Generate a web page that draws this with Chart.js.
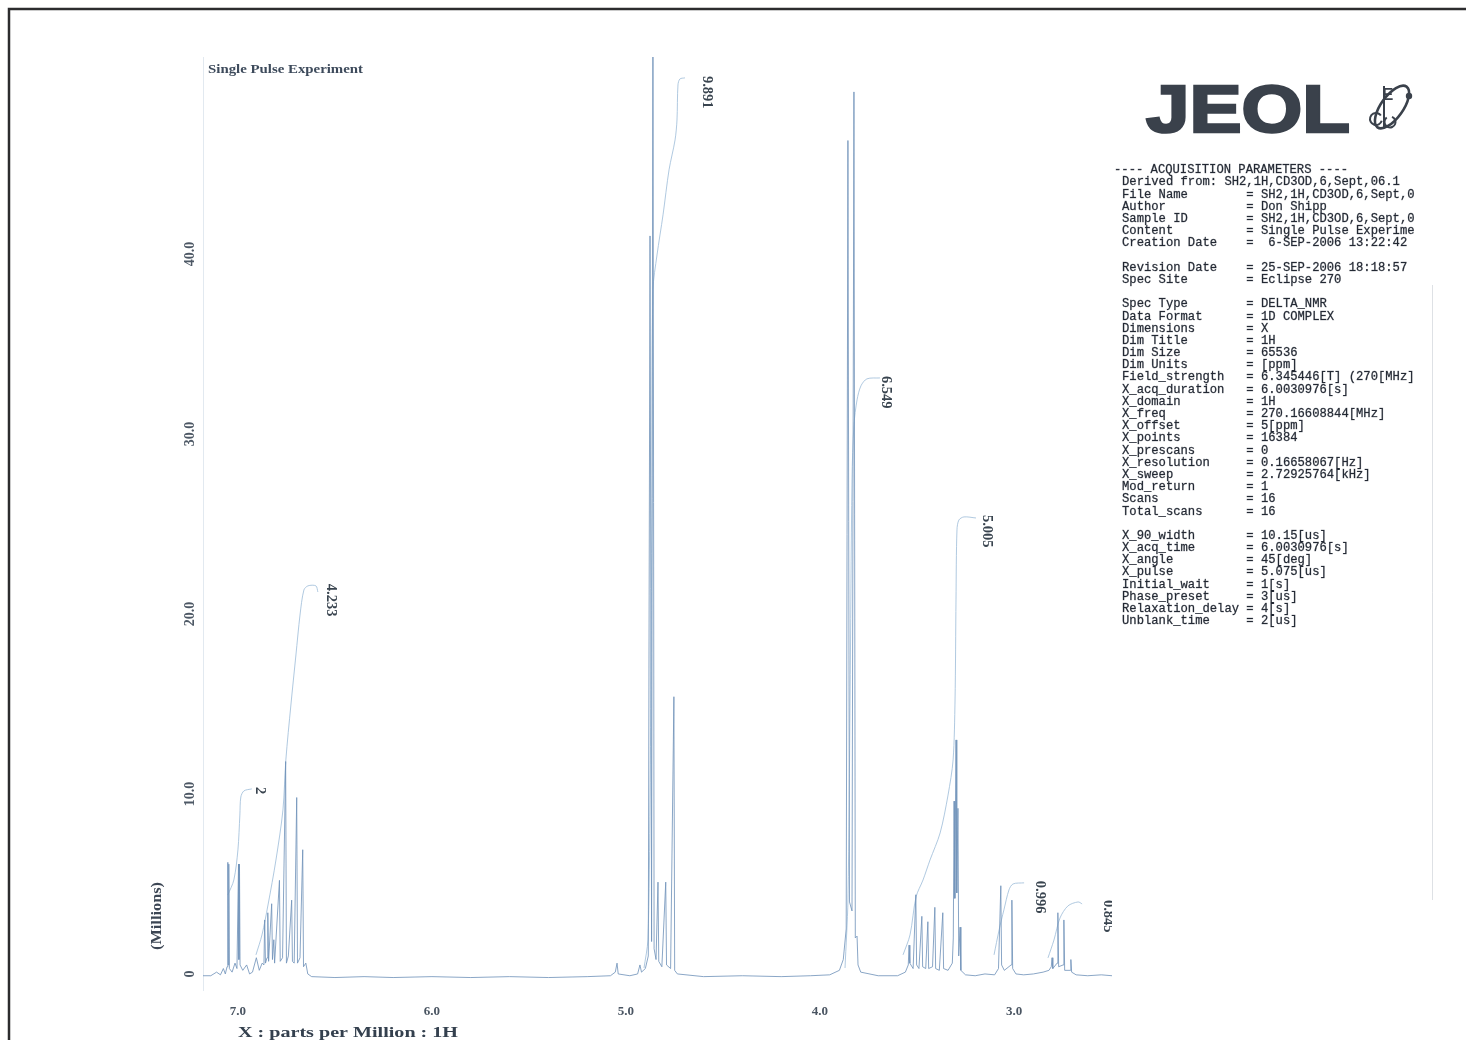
<!DOCTYPE html>
<html>
<head>
<meta charset="utf-8">
<title>Single Pulse Experiment – 1H NMR</title>
<script src="https://cdn.jsdelivr.net/npm/chart.js@4.4.1/dist/chart.umd.min.js"></script>
<style>
  html, body { margin: 0; padding: 0; background: #ffffff; }
  #wrap { position: relative; width: 1466px; height: 1040px; }
  canvas { display: block; }
</style>
</head>
<body>
<div id="wrap"><canvas id="nmr" width="1466" height="1040"></canvas></div>
<script>
// ---- spectrum: chemical shift (ppm) and intensity (millions) ----
const shiftPpm = [
  7.180, 7.140, 7.110, 7.090, 7.075, 7.065, 7.056, 7.052, 7.050, 7.047, 7.044, 7.030, 7.015, 7.005,
  6.997, 6.995, 6.992, 6.989, 6.975, 6.955, 6.940, 6.925, 6.905, 6.890, 6.875, 6.866, 6.862, 6.858,
  6.850, 6.846, 6.842, 6.826, 6.822, 6.815, 6.811, 6.786, 6.782, 6.770, 6.754, 6.750, 6.740, 6.723,
  6.719, 6.710, 6.697, 6.693, 6.680, 6.666, 6.662, 6.650, 6.640, 6.620, 6.500, 6.350, 6.200, 6.000,
  5.800, 5.600, 5.400, 5.200, 5.080, 5.055, 5.046, 5.040, 4.980, 4.940, 4.928, 4.920, 4.900, 4.885,
  4.876, 4.868, 4.861, 4.855, 4.845, 4.835, 4.831, 4.815, 4.795, 4.791, 4.770, 4.753, 4.749, 4.735,
  4.600, 4.400, 4.200, 4.050, 3.950, 3.900, 3.880, 3.865, 3.856, 3.848, 3.835, 3.825, 3.818, 3.809,
  3.804, 3.790, 3.700, 3.600, 3.560, 3.545, 3.541, 3.537, 3.520, 3.506, 3.502, 3.490, 3.475, 3.471,
  3.455, 3.444, 3.440, 3.420, 3.408, 3.404, 3.385, 3.367, 3.363, 3.340, 3.318, 3.313, 3.309, 3.305,
  3.299, 3.295, 3.289, 3.285, 3.278, 3.274, 3.250, 3.200, 3.150, 3.100, 3.080, 3.068, 3.064, 3.050,
  3.015, 3.011, 3.007, 2.990, 2.950, 2.900, 2.850, 2.820, 2.808, 2.804, 2.800, 2.778, 2.774, 2.770,
  2.747, 2.743, 2.739, 2.710, 2.707, 2.703, 2.680, 2.620, 2.550, 2.495
];
const intensityM = [
  -0.10, -0.10, 0.10, -0.05, 0.30, 0.00, 0.40, 6.20, 0.50, 6.10, 0.30, 0.10, 0.60, 0.30,
  6.10, 0.80, 6.10, 0.50, 0.20, 0.50, 0.00, 0.10, 0.90, 0.20, 0.60, 0.50, 3.00, 0.60,
  0.90, 3.40, 0.70, 3.90, 0.80, 1.90, 0.60, 5.20, 0.70, 0.90, 11.80, 0.60, 1.00, 4.10,
  0.70, 0.60, 9.80, 0.60, 0.90, 6.90, 0.40, 0.60, 0.00, -0.15, -0.20, -0.15, -0.20, -0.15,
  -0.20, -0.15, -0.20, -0.15, -0.10, 0.10, 0.60, 0.00, -0.10, 0.00, 0.50, 0.10, 0.30, 1.00,
  41.0, 1.80, 57.0, 1.40, 0.80, 5.10, 0.70, 0.40, 5.10, 0.50, 0.30, 15.40, 0.20, 0.00,
  -0.15, -0.10, -0.15, -0.10, -0.05, 0.20, 0.80, 2.50, 46.30, 4.00, 3.50, 49.00, 2.00, 2.10,
  0.50, 0.10, -0.10, -0.10, 0.10, 0.50, 1.60, 0.60, 0.30, 4.40, 0.50, 0.30, 3.20, 0.40,
  0.30, 2.90, 0.30, 0.40, 3.70, 0.30, 0.20, 3.40, 0.30, 0.20, 0.60, 2.00, 9.60, 4.20,
  13.00, 4.50, 9.20, 1.00, 2.60, 0.20, -0.05, -0.10, 0.00, -0.05, 0.30, 4.90, 0.50, 0.20,
  0.50, 4.10, 0.30, 0.00, -0.05, 0.00, 0.10, 0.20, 0.40, 0.90, 0.30, 0.60, 3.40, 0.40,
  0.50, 3.00, 0.20, 0.20, 0.80, 0.10, -0.05, -0.10, -0.05, -0.10
];

// ---- integral traces (ppm, running integral in millions) ----
const integ1Ppm = [7.052, 7.021, 7.000, 6.990, 6.985, 6.969, 6.928];
const integ1Val = [4.39, 5.22, 6.89, 8.83, 9.83, 10.17, 10.28];
const integ2Ppm = [6.907, 6.876, 6.845, 6.804, 6.768, 6.753, 6.727, 6.701, 6.680, 6.660, 6.639, 6.598, 6.588];
const integ2Val = [1.06, 2.17, 3.83, 6.33, 9.11, 11.89, 14.94, 17.72, 19.94, 21.33, 21.56, 21.56, 21.22];
const integ3Ppm = [4.907, 4.887, 4.876, 4.866, 4.861, 4.840, 4.809, 4.778, 4.747, 4.737, 4.732, 4.722, 4.696];
const integ3Val = [0.33, 1.89, 9.67, 26.33, 38.00, 39.94, 42.17, 44.67, 46.33, 47.44, 49.39, 49.72, 49.78];
const integ4Ppm = [3.871, 3.856, 3.845, 3.835, 3.825, 3.809, 3.789, 3.758, 3.691];
const integ4Val = [0.33, 4.11, 15.22, 27.44, 30.50, 31.89, 32.67, 33.06, 33.11];
const integ5Ppm = [3.572, 3.536, 3.505, 3.469, 3.433, 3.381, 3.340, 3.314, 3.304, 3.299, 3.294, 3.284, 3.258, 3.196];
const integ5Val = [1.06, 2.17, 4.28, 5.22, 6.33, 7.83, 9.94, 11.89, 15.22, 20.78, 24.67, 25.22, 25.39, 25.33];
const integ6Ppm = [3.103, 3.077, 3.052, 3.026, 3.005, 2.948];
const integ6Val = [1.06, 2.44, 3.56, 4.67, 5.00, 5.06];
const integ7Ppm = [2.825, 2.794, 2.763, 2.722, 2.670, 2.649];
const integ7Val = [0.89, 1.89, 3.11, 3.78, 4.00, 3.89];

// integral values printed beside each trace, and the shift where each is printed
const integralText = ['2', '4.233', '9.891', '6.549', '5.005', '0.996', '0.845'];
const integralTextPpm = [6.887, 6.521, 4.582, 3.660, 3.139, 2.866, 2.515];

// axis ticks
const xTickStep = 1.0;
const yTickValues = [0, 10, 20, 30, 40];

// acquisition parameter listing
const paramHeader = '---- ACQUISITION PARAMETERS ----';
const paramDerived = 'Derived from: SH2,1H,CD3OD,6,Sept,06.1';
const paramNames = [
  'File Name', 'Author', 'Sample ID', 'Content', 'Creation Date', '',
  'Revision Date', 'Spec Site', '',
  'Spec Type', 'Data Format', 'Dimensions', 'Dim Title', 'Dim Size', 'Dim Units',
  'Field_strength', 'X_acq_duration', 'X_domain', 'X_freq', 'X_offset', 'X_points',
  'X_prescans', 'X_resolution', 'X_sweep', 'Mod_return', 'Scans', 'Total_scans', '',
  'X_90_width', 'X_acq_time', 'X_angle', 'X_pulse', 'Initial_wait', 'Phase_preset',
  'Relaxation_delay', 'Unblank_time'
];
const paramValues = [
  'SH2,1H,CD3OD,6,Sept,0', 'Don Shipp', 'SH2,1H,CD3OD,6,Sept,0', 'Single Pulse Experime',
  ' 6-SEP-2006 13:22:42', '',
  '25-SEP-2006 18:18:57', 'Eclipse 270', '',
  'DELTA_NMR', '1D COMPLEX', 'X', '1H', '65536', '[ppm]',
  '6.345446[T] (270[MHz]', '6.0030976[s]', '1H', '270.16608844[MHz]', '5[ppm]', '16384',
  '0', '0.16658067[Hz]', '2.72925764[kHz]', '1', '16', '16', '',
  '10.15[us]', '6.0030976[s]', '45[deg]', '5.075[us]', '1[s]', '3[us]',
  '4[s]', '2[us]'
];

const toXY = (xs, ys) => xs.map((x, i) => ({ x: x, y: ys[i] }));

const SERIF = '"Liberation Serif", "DejaVu Serif", serif';
const MONO = '"Liberation Mono", "DejaVu Sans Mono", monospace';
const SPEC_COLOR = 'rgba(112, 146, 186, 0.82)';
const INTEG_COLOR = 'rgba(156, 188, 216, 0.8)';
const LABEL_COLOR = '#39444f';

// draws text squeezed or stretched to a given length
function fitText(ctx, text, x, y, width, stroke) {
  const w = ctx.measureText(text).width;
  ctx.save();
  ctx.translate(x, y);
  ctx.scale(width / w, 1);
  if (stroke) ctx.strokeText(text, 0, 0);
  ctx.fillText(text, 0, 0);
  ctx.restore();
}

const pagePlugin = {
  id: 'page',
  beforeDraw(chart) {
    const ctx = chart.ctx;
    ctx.save();
    ctx.fillStyle = '#ffffff';
    ctx.fillRect(0, 0, chart.width, chart.height);
    // page frame
    ctx.strokeStyle = '#2c2c2e';
    ctx.lineWidth = 2.5;
    ctx.beginPath();
    ctx.moveTo(9, 1040);
    ctx.lineTo(9, 9);
    ctx.lineTo(1466, 9);
    ctx.stroke();
    ctx.strokeStyle = 'rgba(200, 205, 212, 0.6)';
    ctx.lineWidth = 1;
    ctx.beginPath();
    ctx.moveTo(1432.5, 285);
    ctx.lineTo(1432.5, 900);
    ctx.stroke();
    ctx.restore();
  },
  afterDatasetsDraw(chart) {
    const ctx = chart.ctx;
    const xs = chart.scales.x;
    const ys = chart.scales.y;
    const area = chart.chartArea;

    ctx.save();
    // y tick labels, rotated
    ctx.fillStyle = '#4d5865';
    ctx.font = 'bold 14px ' + SERIF;
    ctx.textAlign = 'center';
    ctx.textBaseline = 'middle';
    yTickValues.forEach(v => {
      const py = ys.getPixelForValue(v);
      ctx.save();
      ctx.translate(190, py);
      ctx.rotate(-Math.PI / 2);
      ctx.fillText(v === 0 ? '0' : v.toFixed(1), 0, 0);
      ctx.restore();
    });

    // y axis title
    ctx.font = 'bold 14px ' + SERIF;
    ctx.fillStyle = '#3c4654';
    ctx.save();
    ctx.translate(157, 916);
    ctx.rotate(-Math.PI / 2);
    ctx.textAlign = 'left';
    fitText(ctx, '(Millions)', -34, 0, 68);
    ctx.restore();

    // plot title
    ctx.textAlign = 'left';
    ctx.textBaseline = 'middle';
    ctx.fillStyle = '#3d4a5b';
    ctx.font = 'bold 13px ' + SERIF;
    fitText(ctx, 'Single Pulse Experiment', 208, 70, 155);

    // x axis title
    ctx.font = 'bold 14px ' + SERIF;
    ctx.fillStyle = '#34404e';
    fitText(ctx, 'X : parts per Million : 1H', 238, 1033, 220);

    // integral values, rotated, clipped at the plot's right edge
    const traces = [integ1Val, integ2Val, integ3Val, integ4Val, integ5Val, integ6Val, integ7Val];
    ctx.save();
    ctx.beginPath();
    ctx.rect(0, 0, area.right, chart.height);
    ctx.clip();
    ctx.fillStyle = LABEL_COLOR;
    ctx.font = 'bold 14.5px ' + SERIF;
    ctx.textAlign = 'left';
    ctx.textBaseline = 'middle';
    integralText.forEach((t, i) => {
      const px = xs.getPixelForValue(integralTextPpm[i]);
      const py = ys.getPixelForValue(Math.max(...traces[i])) - 2;
      ctx.save();
      ctx.translate(px, py);
      ctx.rotate(Math.PI / 2);
      ctx.fillText(t, 0, 0);
      ctx.restore();
    });
    ctx.restore();

    // acquisition parameter listing
    ctx.fillStyle = '#222833';
    ctx.strokeStyle = 'rgba(34, 40, 51, 0.55)';
    ctx.lineWidth = 0.45;
    ctx.font = '12.2px ' + MONO;
    ctx.textAlign = 'left';
    ctx.textBaseline = 'middle';
    const lineH = 12.19;
    const top = 170;
    const drawLine = (s, x, y) => { ctx.strokeText(s, x, y); ctx.fillText(s, x, y); };
    drawLine(paramHeader, 1114, top);
    drawLine(paramDerived, 1122, top + lineH);
    paramNames.forEach((n, i) => {
      if (!n) return;
      drawLine(n.padEnd(17, ' ') + '= ' + paramValues[i], 1122, top + lineH * (i + 2));
    });

    // JEOL logotype
    ctx.fillStyle = '#3a414b';
    ctx.strokeStyle = '#3a414b';
    ctx.lineWidth = 2.5;
    ctx.lineJoin = 'miter';
    ctx.font = 'bold 66px "Liberation Sans", Arimo, sans-serif';
    ctx.textBaseline = 'alphabetic';
    fitText(ctx, 'JEOL', 1146, 132, 204, true);
    // emblem
    ctx.lineWidth = 2.6;
    ctx.beginPath();
    ctx.ellipse(1392, 107, 25, 11, -0.95, 0, Math.PI * 2);
    ctx.stroke();
    ctx.font = 'bold 17px "Liberation Sans", sans-serif';
    ctx.fillText('E', 1382, 100);
    ctx.lineWidth = 2;
    ctx.beginPath();
    ctx.arc(1376, 119, 6, 0.3, Math.PI * 1.8);
    ctx.stroke();
    ctx.beginPath();
    ctx.arc(1390, 122, 5.5, -1.2, Math.PI * 1.3);
    ctx.stroke();
    ctx.beginPath();
    ctx.moveTo(1384, 86);
    ctx.lineTo(1384, 127);
    ctx.stroke();
    ctx.beginPath();
    ctx.arc(1409, 96, 3.2, 0, Math.PI * 2);
    ctx.fill();
    ctx.restore();
  }
};

const integralDataset = (xs, ys) => ({
  data: toXY(xs, ys),
  borderColor: INTEG_COLOR,
  borderWidth: 1,
  pointRadius: 0,
  tension: 0.3,
  fill: false
});

new Chart(document.getElementById('nmr'), {
  type: 'line',
  data: {
    datasets: [
      {
        data: toXY(shiftPpm, intensityM),
        borderColor: SPEC_COLOR,
        borderWidth: 1,
        pointRadius: 0,
        tension: 0,
        fill: false
      },
      integralDataset(integ1Ppm, integ1Val),
      integralDataset(integ2Ppm, integ2Val),
      integralDataset(integ3Ppm, integ3Val),
      integralDataset(integ4Ppm, integ4Val),
      integralDataset(integ5Ppm, integ5Val),
      integralDataset(integ6Ppm, integ6Val),
      integralDataset(integ7Ppm, integ7Val)
    ]
  },
  options: {
    responsive: false,
    devicePixelRatio: 1,
    animation: false,
    layout: { padding: { left: 0, right: 354, top: 57, bottom: 0 } },
    plugins: { legend: { display: false }, tooltip: { enabled: false } },
    scales: {
      x: {
        type: 'linear',
        reverse: true,
        min: 2.495,
        max: 7.18,
        grid: { display: false },
        border: { display: false },
        ticks: {
          stepSize: xTickStep,
          includeBounds: false,
          padding: 5,
          color: '#4a5562',
          font: { family: SERIF, size: 13, weight: 'bold' },
          callback: v => Number(v).toFixed(1)
        },
        afterFit: s => { s.height = 49.5; }
      },
      y: {
        type: 'linear',
        min: -0.92,
        max: 50.94,
        grid: { display: false },
        border: { display: true, color: 'rgba(214, 224, 234, 0.7)', width: 1 },
        ticks: { display: false },
        afterFit: s => { s.width = 203; }
      }
    }
  },
  plugins: [pagePlugin]
});
</script>
</body>
</html>
